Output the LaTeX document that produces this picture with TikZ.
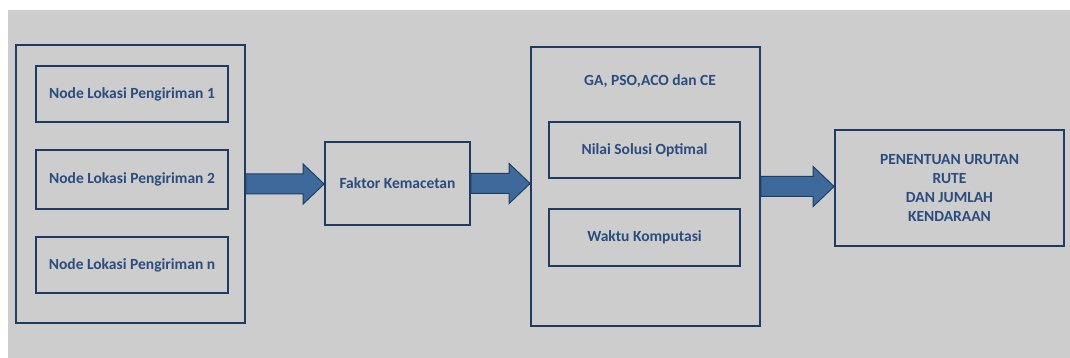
\documentclass[tikz,border=0pt]{standalone}
\usepackage{fontspec}
\setmainfont{Carlito}
\usetikzlibrary{calc}

\definecolor{boxline}{HTML}{1F3B63}
\definecolor{boxtext}{HTML}{2B4C7E}
\definecolor{arrfill}{HTML}{3D6A9A}
\definecolor{arrline}{HTML}{1F3E66}
\definecolor{backgr}{HTML}{CDCDCD}

\tikzset{
  box/.style={draw=boxline, line width=1.8pt, rectangle, inner sep=0pt,
    text=boxtext, font=\bfseries\fontsize{15.5}{19}\selectfont, align=center},
  label/.style={text=boxtext, font=\bfseries\fontsize{15.5}{19}\selectfont, inner sep=0pt},
  fatarrow/.style={fill=arrfill, draw=arrline, line width=1pt, line join=miter}
}

% fat block arrow from node #1 to node #2
\newcommand{\fatarrow}[2]{%
  \draw [fatarrow] let \p1=(#1.east), \p2=(#2.west) in
    (\x1,\y1+10pt) -- (\x2-21pt,\y1+10pt) -- (\x2-21pt,\y1+20pt) --
    (\x2,\y1) --
    (\x2-21pt,\y1-20pt) -- (\x2-21pt,\y1-10pt) -- (\x1,\y1-10pt) -- cycle;}

\begin{document}
\begin{tikzpicture}[x=1pt, y=-1pt]

\path [use as bounding box] (0,0) rectangle (1070,358);
\fill [backgr] (8,10) rectangle (1070,358);

% INPUT
\node [box, minimum width=229pt, minimum height=278pt] (lokasi) at (130.5,184) {};
\node [box, minimum width=192pt, minimum height=56pt] (lok1) at (132,94) {Node Lokasi Pengiriman 1};
\node [box, minimum width=192pt, minimum height=59pt] (lok2) at (132,179.5) {Node Lokasi Pengiriman 2};
\node [box, minimum width=192pt, minimum height=56pt] (lokn) at (132,265) {Node Lokasi Pengiriman n};

% FAKTOR
\node [box, minimum width=145pt, minimum height=83pt] (faktor) at (397.5,183.5) {Faktor Kemacetan};

% ALGORITMA
\node [box, minimum width=229pt, minimum height=279pt] (algo) at (645.5,186.5) {};
\node [label] (algotitle) at (650,81) {GA, PSO,ACO dan CE};
\node [box, minimum width=191pt, minimum height=56pt] (nilai) at (644.5,150) {Nilai Solusi Optimal};
\node [box, minimum width=191pt, minimum height=57pt] (waktu) at (644.5,237.5) {Waktu Komputasi};

% HASIL
\node [box, minimum width=229pt, minimum height=116pt] (hasil) at (949.5,188)
  {PENENTUAN URUTAN\\RUTE\\DAN JUMLAH\\KENDARAAN};

% ARROWS
\fatarrow{lokasi}{faktor}
\fatarrow{faktor}{algo}
\fatarrow{algo}{hasil}

\end{tikzpicture}
\end{document}
